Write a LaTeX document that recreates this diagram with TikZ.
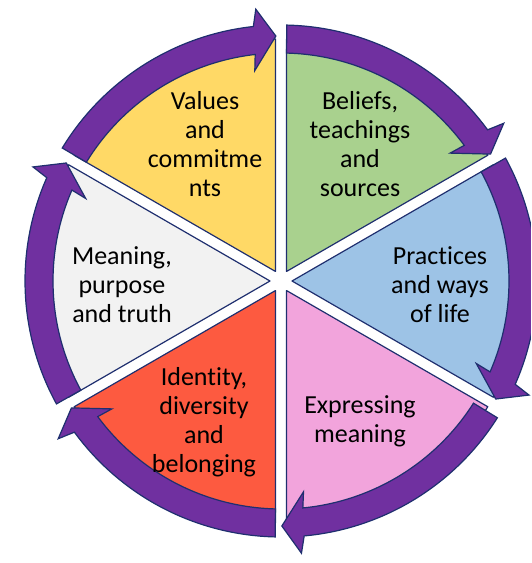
\documentclass[tikz,border=0pt]{standalone}
\usepackage{fontspec}
\setmainfont{Carlito}[Ligatures=CommonOff]
\definecolor{navy}{HTML}{1F2F6F}
\definecolor{ringpurple}{HTML}{7030A0}
\definecolor{valyellow}{HTML}{FFD966}
\definecolor{belgreen}{HTML}{A9D18E}
\definecolor{pracblue}{HTML}{9DC3E6}
\definecolor{exppink}{HTML}{F2A4DC}
\definecolor{idred}{HTML}{FD5A40}
\definecolor{meangrey}{HTML}{F2F2F2}

\begin{document}
\begin{tikzpicture}[x=1pt,y=1pt,
        sector/.style={draw=navy,line width=1.2pt,line join=round},
        band/.style={fill=ringpurple,draw=navy,line width=1.2pt},
        lbl/.style={align=center,inner sep=0pt,font=\fontsize{26}{29}\selectfont}]
        \useasboundingbox (-281,-282) rectangle (250,281);
        \clip (-281,-282) rectangle (250,281);

        \foreach \a/\col in {90/valyellow, 30/belgreen, -30/pracblue, -90/exppink, -150/idred, 150/meangrey}
            \filldraw[sector,fill=\col] (\a+30:11) -- (\a+1.3:242)
                arc[start angle=\a+1.3, end angle=\a+58.7, radius=242] -- cycle;

        \foreach \a in {90, 30, -30, -91, -150, 150}
            \draw[band] (\a+58.7:256) arc[start angle=\a+58.7, end angle=\a+6.2, radius=256]
                -- (\a+5.3:273) -- (\a+1.2:245) -- (\a+7.1:212) -- (\a+6.5:228)
                arc[start angle=\a+6.5, end angle=\a+58.6, radius=228] -- cycle;

        \node[lbl] (values) at (-76, 137) {Values\\and\\commitme\\nts};
        \node[lbl] (beliefs) at (79, 137) {Beliefs,\\teachings\\and\\sources};
        \node[lbl] (practices) at (159, -4) {Practices\\and ways\\of life};
        \node[lbl] (expressing) at (79, -140) {Expressing\\meaning};
        \node[lbl] (identity) at (-77, -141) {Identity,\\diversity\\and\\belonging};
        \node[lbl] (meaning) at (-159, -4) {Meaning,\\purpose\\and truth};
    \end{tikzpicture}
\end{document}
